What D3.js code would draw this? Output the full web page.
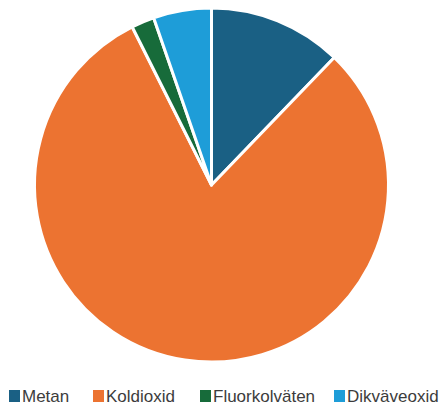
<!DOCTYPE html>
<html>
<head>
<meta charset="utf-8">
<script src="https://cdn.jsdelivr.net/npm/d3@7"></script>
<style>
  body { margin: 0; background: #fff; }
  svg { display: block; }
</style>
</head>
<body>
<svg id="chart" width="444" height="407"></svg>
<script>
const categories = ["Metan", "Koldioxid", "Fluorkolväten", "Dikväveoxid"];
const values = [12.2, 80.4, 2.1, 5.3];
const colors = ["#1a6084", "#ec7331", "#176b3a", "#1e9dd8"];
const legendX = [9, 93, 200, 334];

const width = 444;
const cx = 211.5, cy = 185, radius = 177;

const svg = d3.select("#chart");
const color = d3.scaleOrdinal(categories, colors);

const data = categories.map((c, i) => ({ name: c, value: values[i] }));

const pie = d3.pie().value(d => d.value).sort(null);
const arc = d3.arc().innerRadius(0).outerRadius(radius);

svg.append("g")
  .attr("transform", `translate(${cx},${cy})`)
  .selectAll("path")
  .data(pie(data))
  .join("path")
  .attr("d", arc)
  .attr("fill", d => color(d.data.name))
  .attr("stroke", "#fff")
  .attr("stroke-width", 3)
  .attr("stroke-linejoin", "round");

// legend
const legend = svg.append("g")
  .selectAll("g")
  .data(categories)
  .join("g")
  .attr("transform", (d, i) => `translate(${legendX[i]},390)`);

legend.append("rect")
  .attr("width", 11)
  .attr("height", 12)
  .attr("fill", d => color(d));

legend.append("text")
  .attr("x", 13)
  .attr("y", 12)
  .attr("font-family", "'Liberation Sans', Arial, sans-serif")
  .attr("font-size", 17)
  .attr("fill", "#3c3c3c")
  .text(d => d);
</script>
</body>
</html>
